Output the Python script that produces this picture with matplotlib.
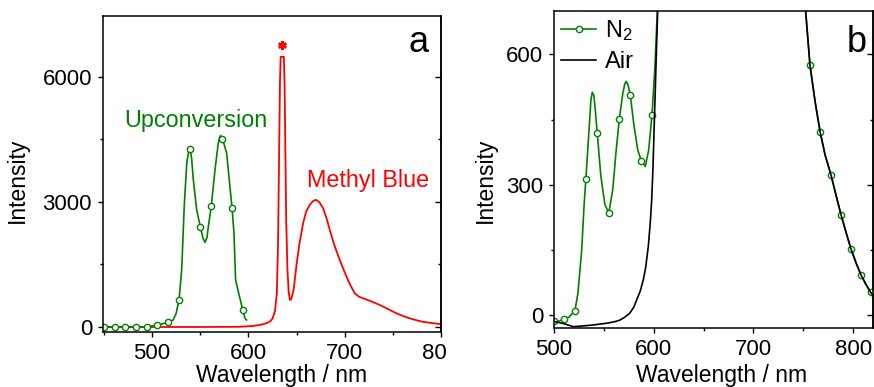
# Two-panel emission spectra: (a) upconversion + methyl blue, (b) N2 vs air

# Import libraries
import matplotlib.pyplot as plt
from matplotlib.patches import Rectangle
from matplotlib.ticker import MultipleLocator

plt.rcParams['font.family'] = ['Liberation Sans', 'DejaVu Sans']
plt.rcParams['mathtext.default'] = 'regular'

# ---------------- data, panel a ----------------
up_wl = [450, 461, 472, 483, 494.5, 505, 510, 516, 522, 525, 528, 530.7, 533.5,
         536, 537.8, 539.4, 541, 542.8, 546.3, 550, 553, 555, 557, 558.4, 561.5,
         565.3, 568.7, 570.2, 571.2, 572.5, 574.5, 577.4, 580.8, 583, 585,
         586.7, 589.5, 592, 594, 596.4, 598]
up_int = [0, 0, 0, 0, 0, 48, 70, 112, 170, 330, 656, 1370, 2970,
          3930, 4200, 4280, 4050, 3530, 2810, 2410, 2120, 2030, 2150, 2410, 2910,
          3770, 4410, 4560, 4590, 4520, 4400, 4170, 3370, 2860, 2250,
          1130, 850, 610, 416, 210, 170]
up_marks = [450, 461, 472, 483, 494.5, 505, 516, 528, 539.4, 550, 561.5, 572.5, 583, 594]

mb_wl = [449, 500, 550, 590, 605, 612, 618, 622.3, 625, 627.5, 629.5, 630.8, 631.8,
         632.8, 633.5, 636.8, 637.6, 638.4, 639.3, 640.5, 641.8, 643, 644.5, 647,
         650, 653, 656.8, 660, 663.7, 667, 670, 673.5, 677.5, 681, 684.5, 689,
         694.8, 701.8, 706, 710.4, 714.5, 719, 727, 736.3, 745, 753.6, 762, 770.8,
         780, 790, 798.4, 800]
mb_int = [0, 0, 0, 5, 25, 50, 85, 130, 200, 370, 800, 2000, 4000,
          5900, 6480, 6480, 5800, 4200, 2500, 1400, 850, 650, 660, 900,
          1500, 2000, 2490, 2770, 2930, 3020, 3050, 3000, 2850, 2620, 2330, 1980,
          1610, 1210, 1000, 810, 730, 690, 620, 530, 430, 330, 250, 185,
          130, 95, 72, 70]

laser_wl = [635]
laser_int = [6760]

# ---------------- data, panel b ----------------
n2_wl = [500, 505, 510, 515, 521, 524, 527.8, 530.1, 532, 535.4, 537, 538.4,
         540, 541.5, 543.4, 547, 551, 555, 559, 562, 565.5, 569, 571, 572.5,
         574.5, 576.5, 580, 584, 587.6, 591.6, 595, 598.3, 601.3, 603.6, 606,
         620, 740, 750, 752.4, 756.8, 762, 767, 772, 777.8, 783, 787.9, 793,
         797.9, 803, 808, 813, 817.7, 820]
n2_int = [-15, -14, -10, -5, 10, 50, 150, 250, 314, 435, 495, 513,
          505, 470, 418, 320, 255, 235, 290, 370, 451, 510, 532, 538,
          528, 507, 440, 380, 355, 342, 380, 461, 573, 700, 850,
          2000, 2000, 800, 700, 575, 490, 421, 368, 323, 275, 231, 190,
          152, 120, 92, 70, 52, 45]
n2_marks = [500, 510, 521, 532, 543.4, 555, 565.5, 576.5, 587.6, 598.3,
            756.8, 767, 777.8, 787.9, 797.9, 808, 817.7]

air_wl = [500, 510, 519.4, 530, 539.4, 552.8, 560, 566, 571, 576, 580, 583,
          586.5, 589.6, 592, 594.6, 596.5, 598, 599.3, 600.3, 601.3, 602.3,
          603.3, 604.3, 606, 620, 740, 748, 750.5, 752.4, 756.8, 762, 767, 772,
          777.8, 783, 787.9, 793, 797.9, 803, 808, 813, 817.7, 820]
air_int = [-15, -20, -27, -25, -23, -19, -16, -12, -5, 4, 18, 35,
           55, 81, 110, 158, 210, 265, 340, 420, 495, 573,
           650, 720, 900, 2500, 2500, 900, 780, 700, 575, 490, 421, 368,
           323, 275, 231, 190, 152, 120, 92, 70, 52, 45]

green = '#008000'
red = '#ff0000'
W, H = 874, 387


def style_axis(ax, xmaj, ymaj):
    """Origin-like ticks: out on left/bottom, in on the right."""
    ax.xaxis.set_major_locator(MultipleLocator(xmaj))
    ax.xaxis.set_minor_locator(MultipleLocator(xmaj / 2))
    ax.yaxis.set_major_locator(MultipleLocator(ymaj))
    ax.yaxis.set_minor_locator(MultipleLocator(ymaj / 2))
    ax.tick_params(which='both', direction='out', top=False, right=False,
                   labelsize=16, pad=4.3, width=1)
    ax.tick_params(which='major', length=3.6)
    ax.tick_params(which='minor', length=2.2)
    for s in ax.spines.values():
        s.set_linewidth(1.1)
    # right-hand ticks pointing inwards
    sec = ax.secondary_yaxis('right')
    sec.yaxis.set_major_locator(MultipleLocator(ymaj))
    sec.yaxis.set_minor_locator(MultipleLocator(ymaj / 2))
    sec.tick_params(which='both', direction='in', labelright=False, width=1)
    sec.tick_params(which='major', length=4)
    sec.tick_params(which='minor', length=2.5)
    sec.spines['right'].set_linewidth(1.1)


fig = plt.figure(figsize=(W / 100, H / 100), dpi=100)

# ---------------- panel a ----------------
ax1 = fig.add_axes([103 / W, (H - 332) / H, 338 / W, 316 / H])
ax1.plot(mb_wl, mb_int, color=red, lw=1.3)
ax1.plot(up_wl, up_int, color=green, lw=1.2, marker='o', ms=4.5,
         mfc='white', mec=green, mew=1,
         markevery=[up_wl.index(m) for m in up_marks])
ax1.plot(laser_wl, laser_int, ls='none', marker=(6, 2, 0), ms=6,
         mew=1.8, color=red)
ax1.set_xlim(449, 800)
ax1.set_ylim(-120, 7460)
style_axis(ax1, 100, 3000)

ax1.text(0.062, 0.648, 'Upconversion', color=green, fontsize=16.8,
         transform=ax1.transAxes, va='baseline')
ax1.text(0.604, 0.460, 'Methyl Blue', color=red, fontsize=16.8,
         transform=ax1.transAxes, va='baseline')
ax1.text(0.962, 0.886, 'a', fontsize=26, transform=ax1.transAxes,
         ha='right', va='baseline')
ax1.set_xlabel('Wavelength / nm', fontsize=16.5)
ax1.set_ylabel('Intensity', fontsize=16.5)
ax1.xaxis.set_label_coords(0.527, -0.101)
ax1.yaxis.set_label_coords(-0.219, 0.481)

# ---------------- panel b ----------------
ax2 = fig.add_axes([554 / W, (H - 328) / H, 319 / W, 317 / H])
ax2.plot(n2_wl, n2_int, color=green, lw=1.2, marker='o', ms=4.5,
         mfc='white', mec=green, mew=1, label='N$_2$',
         markevery=[n2_wl.index(m) for m in n2_marks])
ax2.plot(air_wl, air_int, color='black', lw=1.2, label='Air')
ax2.set_xlim(500, 820)
ax2.set_ylim(-30, 700)
style_axis(ax2, 100, 300)

ax2.text(0.981, 0.871, 'b', fontsize=26, transform=ax2.transAxes,
         ha='right', va='baseline')
ax2.legend(loc='upper left', frameon=False, fontsize=17, handlelength=1.5,
           handletextpad=0.35, labelspacing=0.35, borderaxespad=0.1,
           borderpad=0.2)
ax2.set_xlabel('Wavelength / nm', fontsize=16.5)
ax2.set_ylabel('Intensity', fontsize=16.5)
ax2.xaxis.set_label_coords(0.526, -0.114)
ax2.yaxis.set_label_coords(-0.179, 0.467)

# the source picture cuts off the last digit of panel a's "800"
fig.patches.append(Rectangle((447 / W, 17 / H), 83 / W, 36 / H,
                             transform=fig.transFigure, color='white',
                             zorder=5))

fig.savefig('out.png', dpi=100)
